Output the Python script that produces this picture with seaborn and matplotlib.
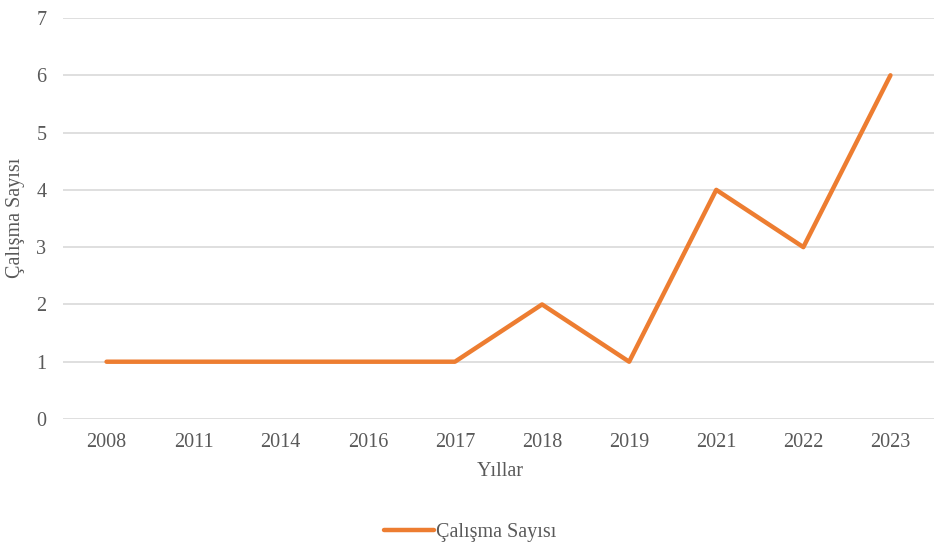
import matplotlib
matplotlib.use("Agg")
import matplotlib.pyplot as plt
import seaborn as sns
import pandas as pd

years = ["2008", "2011", "2014", "2016", "2017", "2018", "2019", "2021", "2022", "2023"]
counts = [1, 1, 1, 1, 1, 2, 1, 4, 3, 6]
series_name = "Çalışma Sayısı"

sns.set_theme(style="white")
plt.rcParams['font.family'] = ['Liberation Serif', 'DejaVu Serif']

df = pd.DataFrame({"Yıllar": years, "value": counts, "series": series_name})

fig = plt.figure(figsize=(9.35, 5.49), dpi=100)
ax = fig.add_axes([63/935, 1 - 419/549, (934 - 63)/935, (419 - 18)/549])

sns.lineplot(data=df, x="Yıllar", y="value", hue="series", palette=["#ED7D31"],
             linewidth=3.2, sort=False, ax=ax, legend=True)

ax.set_ylim(0, 7)
ax.set_xlim(-0.5, len(years) - 0.5)
ax.set_yticks(range(0, 8))
ax.yaxis.grid(True, color="#D9D9D9", linewidth=1.2)
ax.xaxis.grid(False)
for s in ax.spines.values():
    s.set_visible(False)
ax.tick_params(axis="both", length=0, labelsize=14.5, colors="#595959")
ax.tick_params(axis="y", pad=12)
ax.tick_params(axis="x", pad=10)
ax.set_xlabel("Yıllar", fontsize=14.5, color="#595959")
ax.set_ylabel("Çalışma Sayısı", fontsize=14.5, color="#595959")
ax.yaxis.set_label_coords(16/935, 1 - 218/549, transform=fig.transFigure)
ax.xaxis.set_label_coords(500/935, 1 - 472/549, transform=fig.transFigure)
ax.xaxis.label.set_va("center")
ax.yaxis.label.set_va("center")
ax.set_axisbelow(True)

handles, labels = ax.get_legend_handles_labels()
ax.legend(handles, labels, loc="center", bbox_to_anchor=(470/935, 1 - 532/549),
          bbox_transform=fig.transFigure, frameon=False, fontsize=14.5,
          handlelength=2.5, handletextpad=0.1, labelcolor="#595959")

fig.savefig("out.png", dpi=100)
